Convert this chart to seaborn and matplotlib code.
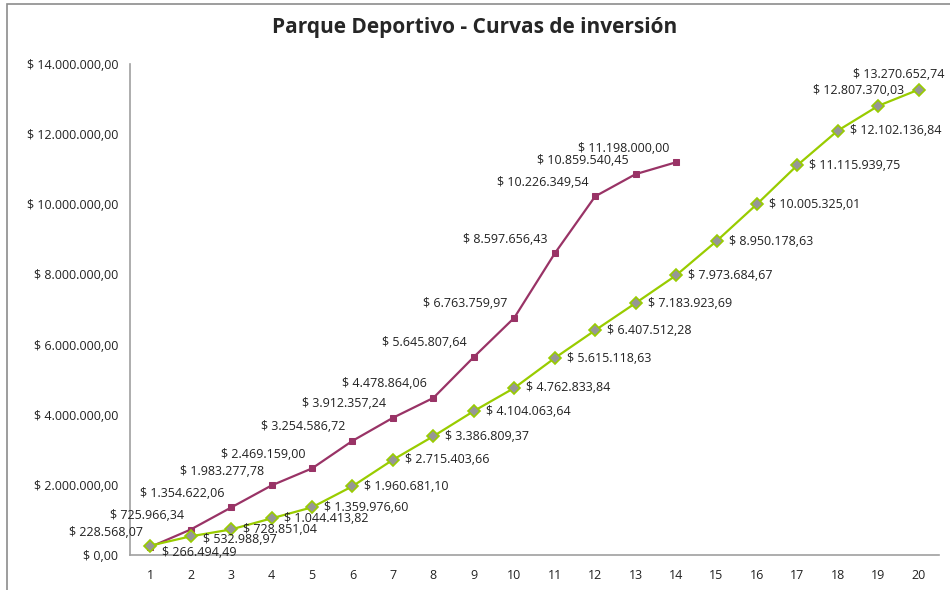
import pandas as pd
import numpy as np
import matplotlib.pyplot as plt
import seaborn as sns
from matplotlib.patches import Rectangle
from matplotlib.ticker import FuncFormatter

sns.set_style("white")
plt.rcParams['font.family'] = ['Open Sans', 'DejaVu Sans']

# ==============================
# Data
# ==============================
periodos = list(range(1, 21))

curva_a = [228568.07, 725966.34, 1354622.06, 1983277.78, 2469159.00,
           3254586.72, 3912357.24, 4478864.06, 5645807.64, 6763759.97,
           8597656.43, 10226349.54, 10859540.45, 11198000.00]

curva_b = [266494.49, 532988.97, 728851.04, 1044413.82, 1359976.60,
           1960681.10, 2715403.66, 3386809.37, 4104063.64, 4762833.84,
           5615118.63, 6407512.28, 7183923.69, 7973684.67, 8950178.63,
           10005325.01, 11115939.75, 12102136.84, 12807370.03, 13270652.74]

y_ticks = [0, 2000000, 4000000, 6000000, 8000000, 10000000, 12000000, 14000000]

df_a = pd.DataFrame({'periodo': periodos[:len(curva_a)], 'monto': curva_a})
df_b = pd.DataFrame({'periodo': periodos, 'monto': curva_b})


def fmt(v):
    s = f"{v:,.2f}"
    s = s.replace(',', '#').replace('.', ',').replace('#', '.')
    return "$ " + s


# ==============================
# Plot
# ==============================
fig = plt.figure(figsize=(9.5, 5.9), dpi=100)
ax = fig.add_axes([130 / 950, 35 / 590, 809 / 950, 491 / 590])

purple = '#993366'
green = '#99CC00'
fs = 9

sns.lineplot(data=df_a, x='periodo', y='monto', ax=ax, color=purple,
             linewidth=1.6, marker='s', markersize=4.5,
             markeredgecolor=purple, markerfacecolor=purple)
sns.lineplot(data=df_b, x='periodo', y='monto', ax=ax, color=green,
             linewidth=1.6, marker='D', markersize=6,
             markeredgecolor=green, markerfacecolor='#969696',
             markeredgewidth=1.2)

# data labels
for x, v in zip(df_a['periodo'], df_a['monto']):
    ax.annotate(fmt(v), (x, v), xytext=(-7, 14), textcoords='offset pixels',
                ha='right', va='center', fontsize=fs, color='#222222')

for i, (x, v) in enumerate(zip(df_b['periodo'], df_b['monto'])):
    if i >= 18:
        ax.annotate(fmt(v), (x, v), xytext=(-20, 15), textcoords='offset pixels',
                    ha='center', va='center', fontsize=fs, color='#222222',
                    annotation_clip=False)
    else:
        dy = {0: -7, 1: -3}.get(i, 0)
        ax.annotate(fmt(v), (x, v), xytext=(12, dy), textcoords='offset pixels',
                    ha='left', va='center', fontsize=fs, color='#222222')

ax.set_xlim(0.5, 20.5)
ax.set_ylim(0, 14000000)
ax.set_xticks(periodos)
ax.set_yticks(y_ticks)
ax.yaxis.set_major_formatter(FuncFormatter(lambda v, p: fmt(v)))
ax.tick_params(axis='both', length=0, labelsize=fs, colors='#222222')
ax.tick_params(axis='y', pad=8.5)
ax.tick_params(axis='x', pad=10)
ax.set_xlabel('')
ax.set_ylabel('')

for side in ['top', 'right']:
    ax.spines[side].set_visible(False)
for side in ['left', 'bottom']:
    ax.spines[side].set_color('#a0a0a0')
    ax.spines[side].set_linewidth(1.2)

fig.text(0.5, 1 - 27 / 590, 'Parque Deportivo - Curvas de inversión',
         ha='center', va='center', fontsize=15, fontweight='bold')

# outer chart border
fig.patches.append(Rectangle((7 / 950, -0.1), 1.2, 1.1 - 4 / 590,
                             transform=fig.transFigure, fill=False,
                             edgecolor='#8c8c8c', linewidth=1.2))

fig.savefig('out.png', dpi=100)
